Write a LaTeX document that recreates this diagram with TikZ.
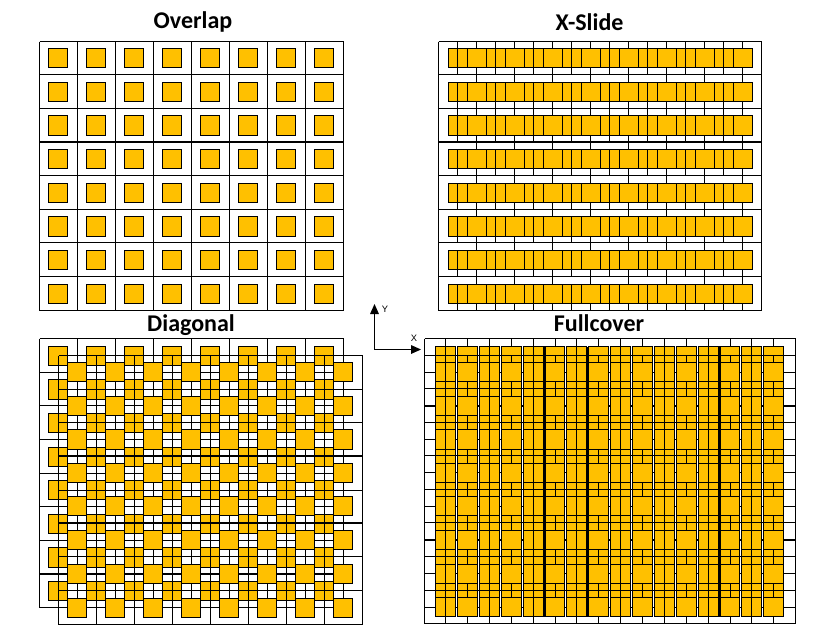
\documentclass[tikz,border=0pt]{standalone}
\usepackage{fontspec}
\setmainfont{Carlito}
\newfontfamily\axisfont{Liberation Sans}
\usetikzlibrary{arrows.meta}
\definecolor{sqy}{HTML}{FFC000}
\tikzset{
  gl/.style={draw=black,line width=0.75pt},
  heavy/.style={draw=black,line width=1.5pt},
  semiheavy/.style={draw=black,line width=1.15pt},
  sq/.style={fill=sqy,draw=black,line width=0.75pt},
  ttl/.style={font=\bfseries\fontsize{18}{20}\selectfont,inner sep=0pt,anchor=base},
  axl/.style={font=\axisfont\fontsize{7}{8}\selectfont,inner sep=0pt,anchor=center},
  axarrow/.style={draw=black,line width=0.75pt,-{Triangle[length=7.5pt,width=6.5pt]}}
}
\newcommand\vlinesP[4]{\foreach \i in {0,...,#4}{\draw[gl] ({#1+38*\i},#2)--({#1+38*\i},#3);}}
\newcommand\hlinesP[3]{\foreach \yy in {#3}{\draw[gl] (#1,\yy)--(#2,\yy);}}
\newcommand\squaresP[2]{\foreach \i in {0,...,7}{\foreach \tt/\bb in {#2}{\path[sq] ({#1+38*\i},\tt) rectangle ({#1+38*\i+19},\bb);}}}
\begin{document}
\begin{tikzpicture}[x=0.75pt,y=-0.75pt]
\useasboundingbox (0,0) rectangle (817,637);
% ---------- Overlap
\node[ttl] (tOverlap) at (193,28) {Overlap};
\vlinesP{39.5}{41.5}{310.5}{8}
\hlinesP{39.5}{343.5}{41.5,74.5,108.5,175.5,209.5,242.5,276.5,310.5}
\draw[heavy] (39.5,142)--(343.5,142);
\squaresP{48.5}{48.5/67.5,82.5/101.5,115.5/135.5,149.5/168.5,183.5/202.5,216.5/236.5,250.5/269.5,284.5/303.5}
% ---------- X-Slide
\node[ttl] (tXslide) at (589.5,30) {X-Slide};
\vlinesP{438.5}{41.5}{310.5}{8}
\draw[gl] (761.5,41.5)--(761.5,310.5);
\hlinesP{438.5}{761.5}{41.5,74.5,108.5,175.5,209.5,242.5,276.5,310.5}
\draw[heavy] (438.5,142)--(761.5,142);
\squaresP{448.5}{48.5/67.5,82.5/101.5,115.5/135.5,149.5/168.5,183.5/202.5,216.5/236.5,250.5/269.5,284.5/303.5}
\foreach \i in {0,...,7}{
  \foreach \tt/\bb in {48.5/67.5,82.5/101.5,115.5/135.5,149.5/168.5,183.5/202.5,216.5/236.5,250.5/269.5,284.5/303.5,41.5/48.5,108.5/115.5,67.5/74.5,101.5/108.5,135.5/142,168.5/175.5,202.5/209.5,236.5/242.5,269.5/276.5,303.5/310.5}{
    \draw[gl] ({457.5+38*\i},\tt)--({457.5+38*\i},\bb);}
}
\squaresP{467.5}{48.5/67.5,82.5/101.5,115.5/135.5,149.5/168.5,183.5/202.5,216.5/236.5,250.5/269.5,284.5/303.5}
% ---------- Diagonal
\node[ttl] (tDiagonal) at (191,331) {Diagonal};
\vlinesP{39.5}{338.5}{607.5}{8}
\hlinesP{39.5}{343.5}{338.5,372.5,405.5,439.5,473.5,506.5,540.5,607.5}
\draw[heavy] (39.5,574)--(343.5,574);
\squaresP{48.5}{346.5/365.5,379.5/399.5,413.5/432.5,447.5/466.5,480.5/499.5,514.5/533.5,547.5/567.5,581.5/600.5}
\vlinesP{58.5}{355.5}{624.5}{8}
\hlinesP{58.5}{362.5}{355.5,389.5,422.5,490.5,556.5,590.5,624.5}
\draw[heavy] (58.5,456)--(362.5,456);
\draw[heavy] (58.5,523)--(362.5,523);
\squaresP{67.5}{362.5/381.5,396.5/415.5,429.5/449.5,463.5/482.5,496.5/515.5,530.5/549.5,564.5/583.5,598.5/617.5}
% ---------- Axes
\coordinate (origin) at (374.5,349.5);
\coordinate (yend) at (374.5,304);
\coordinate (xend) at (421,349.5);
\draw[axarrow] (origin)--(yend);
\draw[axarrow] (origin)--(xend);
\node[axl] (lblY) at (385,309) {Y};
\node[axl] (lblX) at (414,338) {X};
% ---------- Fullcover
\node[ttl] (tFull) at (599,331) {Fullcover};
\foreach \xx in {424.5,445.5,467.5,489.5,511.5,533.5,555.5,576.5,598.5,620.5,642.5,664.5,686.5,708.5,730.5,751.5,773.5,795.5}{\draw[gl] (\xx,338.5)--(\xx,623.5);}
\hlinesP{424.5}{795.5}{338.5,372.5,439.5,472.5,506.5,573.5,607.5,623.5}
\draw[heavy] (424.5,406)--(795.5,406);
\draw[heavy] (424.5,540)--(795.5,540);
\foreach \xx/\cc/\kind in {435.5/445.5/0,457.5/467.5/1,479.5/489.5/0,501.5/511.5/1,523.5/533.5/0,544.5/555.5/1,566.5/576.5/0,588.5/598.5/1,610.5/620.5/0,632.5/642.5/1,654.5/664.5/0,676.5/686.5/1,698.5/708.5/0,719.5/730.5/1,741.5/751.5/0,763.5/773.5/1}{
  \fill[sqy] (\xx,346.5) rectangle ({\xx+20},616.5);
  \ifnum\kind=0
    \draw[gl] (\cc,346.5)--(\cc,616.5);
  \else
    \foreach \tt/\bb in {355.5/362.5,381.5/396.5,415.5/429.5,449.5/463.5,482.5/496.5,515.5/530.5,549.5/564.5,583.5/597.5}{\draw[gl] (\cc,\tt)--(\cc,\bb);}
  \fi
  \foreach \yy in {362.5,381.5,396.5,415.5,429.5,449.5,463.5,482.5,496.5,515.5,530.5,549.5,564.5,583.5,597.5}{\draw[gl] (\xx,\yy)--({\xx+20},\yy);}
  \draw[gl] (\xx,346.5) rectangle ({\xx+20},616.5);
}
\foreach \xx in {545,588,720}{\draw[semiheavy] (\xx,346.5)--(\xx,616.5);}
\hlinesP{424.5}{795.5}{355.5,388.5,422.5,455.5,489.5,522.5,556.5,590.5}
\end{tikzpicture}
\end{document}
